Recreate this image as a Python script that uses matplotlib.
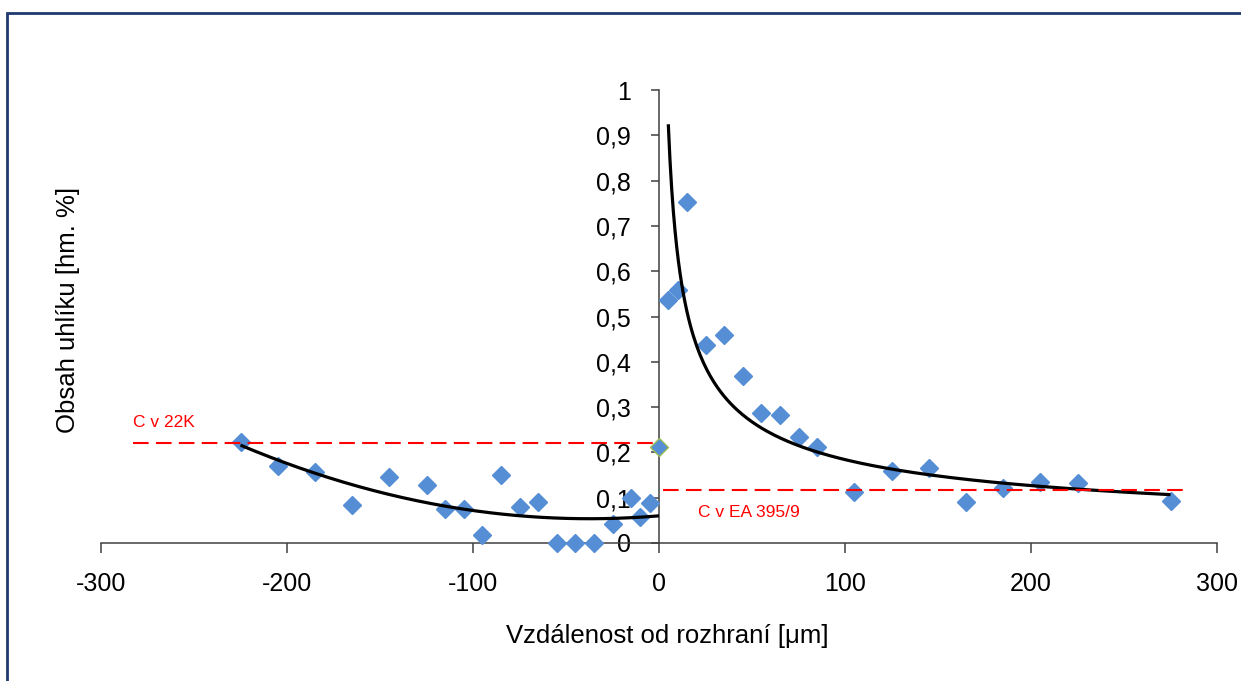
import numpy as np
import matplotlib
matplotlib.use("Agg")
import matplotlib.pyplot as plt
from matplotlib.patches import Rectangle

plt.rcParams['font.family'] = ['Liberation Sans', 'DejaVu Sans']

# --- data ---
left_x = [-225, -205, -185, -165, -145, -125, -115, -105, -95, -85, -75, -65,
          -55, -45, -35, -25, -15, -10, -5]
left_y = [0.222, 0.170, 0.156, 0.083, 0.145, 0.129, 0.075, 0.076, 0.017, 0.151,
          0.080, 0.090, 0.0, 0.0, 0.0, 0.043, 0.099, 0.058, 0.088]
right_x = [5, 10, 15, 25, 35, 45, 55, 65, 75, 85, 105, 125, 145, 165, 185, 205, 225, 275]
right_y = [0.536, 0.558, 0.753, 0.437, 0.459, 0.368, 0.286, 0.282, 0.234, 0.212,
           0.113, 0.159, 0.166, 0.090, 0.121, 0.134, 0.132, 0.093]
iface_x = [0]
iface_y = [0.212]

# polynomial (order 2) trendline of the left side, as displayed in the chart
left_trend_coef = [4.61e-6, 3.44e-4, 0.060]
left_trend_range = [-225, 0]

level_22k = 0.221
level_ea = 0.118
label_22k = "C v 22K"
label_ea = "C v EA 395/9"

x_ticks = [-300, -200, -100, 0, 100, 200, 300]
x_ticklabels = ["-300", "-200", "-100", "0", "100", "200", "300"]
y_ticks = [0, 0.1, 0.2, 0.3, 0.4, 0.5, 0.6, 0.7, 0.8, 0.9, 1.0]
y_ticklabels = ["0", "0,1", "0,2", "0,3", "0,4", "0,5", "0,6", "0,7", "0,8", "0,9", "1"]

xlabel = "Vzdálenost od rozhraní [μm]"
ylabel = "Obsah uhlíku [hm. %]"

# --- trend lines ---
lt_x = np.linspace(left_trend_range[0], left_trend_range[1], 200)
lt_y = np.polyval(left_trend_coef, lt_x)

rx = np.array(right_x, dtype=float)
ry = np.array(right_y, dtype=float)
b, lna = np.polyfit(np.log(rx), np.log(ry), 1)   # power trendline
rt_x = np.linspace(rx.min(), rx.max(), 300)
rt_y = np.exp(lna) * rt_x ** b

# --- figure ---
W, H = 1241, 681
fig = plt.figure(figsize=(W / 100, H / 100), dpi=100)
ax = fig.add_axes([101 / W, 1 - 543 / H, (1217 - 101) / W, (543 - 90) / H])
ax.set_xlim(-300, 300)
ax.set_ylim(0, 1)

for s in ['top', 'right']:
    ax.spines[s].set_visible(False)
ax.spines['left'].set_position(('data', 0))
ax.spines['left'].set_bounds(0, 1)
axis_col = '#404040'
for s in ['left', 'bottom']:
    ax.spines[s].set_color(axis_col)
    ax.spines[s].set_linewidth(1.1)

ax.set_xticks(x_ticks)
ax.set_xticklabels(x_ticklabels)
ax.set_yticks(y_ticks)
ax.set_yticklabels(y_ticklabels)
ax.tick_params(axis='x', direction='out', length=7, width=1.1, color=axis_col,
               pad=14, labelsize=18, labelcolor='black')
ax.tick_params(axis='y', direction='out', length=6, width=1.1, color=axis_col,
               pad=14, labelsize=18, labelcolor='black')

blue = '#558ED5'
ax.plot(left_x, left_y, linestyle='none', marker='D', ms=9.5, color=blue,
        mec=blue, clip_on=False, zorder=3)
ax.plot(right_x, right_y, linestyle='none', marker='D', ms=9.5, color=blue,
        mec=blue, clip_on=False, zorder=3)
ax.plot(iface_x, iface_y, linestyle='none', marker='D', ms=9.5, color=blue,
        mec='#9BBB59', mew=1.0, clip_on=False, zorder=3)

ax.plot(lt_x, lt_y, color='black', lw=2.3, zorder=4, solid_capstyle='butt')
ax.plot(rt_x, rt_y, color='black', lw=2.3, zorder=4, solid_capstyle='butt')

ax.plot([-283, -1], [level_22k, level_22k], color='red', lw=1.5,
        dashes=(7.5, 3.5), zorder=5, clip_on=False)
ax.plot([2, 283], [level_ea, level_ea], color='red', lw=1.5,
        dashes=(7.5, 3.5), zorder=5, clip_on=False)

ax.text(-283, 0.265, label_22k, color='red', fontsize=12.5, ha='left', va='center')
ax.text(21, 0.068, label_ea, color='red', fontsize=12.5, ha='left', va='center')

fig.text(667 / W, 1 - 636 / H, xlabel, ha='center', va='center', fontsize=18.5)
fig.text(68 / W, 1 - 310 / H, ylabel, ha='center', va='center', fontsize=18.5,
         rotation=90)

# outer border (chart area frame)
fig.patches.append(Rectangle((7 / W, -0.1), 1.2, 1 - 13 / H + 0.1,
                             transform=fig.transFigure, fill=False,
                             edgecolor='#1F3A6E', lw=2.0, zorder=0))

fig.savefig('out.png', dpi=100)
